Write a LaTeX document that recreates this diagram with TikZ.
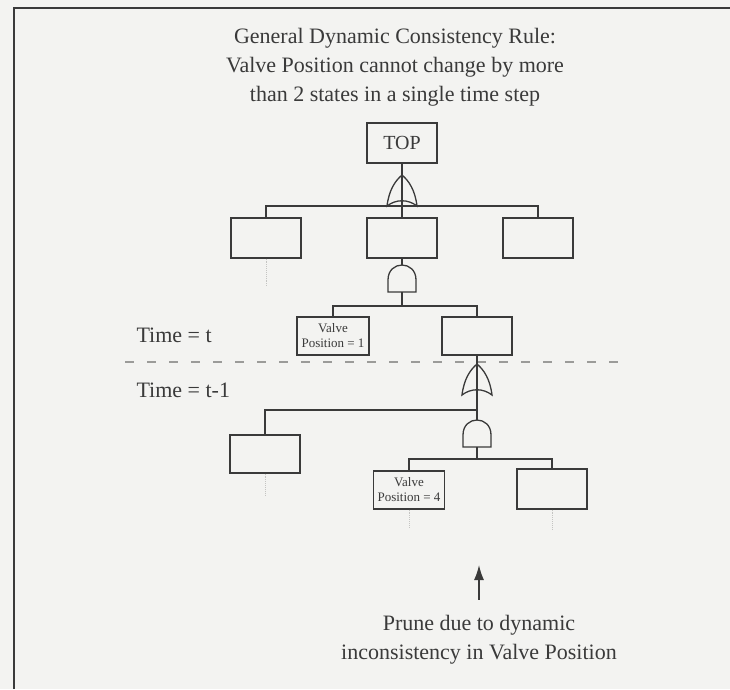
\documentclass[tikz,border=0pt]{standalone}
\usepackage{fontspec}
\setmainfont{Liberation Serif}
\usetikzlibrary{arrows.meta,positioning,calc}
\definecolor{Ink}{HTML}{3A3A3A}
\definecolor{Paper}{HTML}{F3F3F1}
\definecolor{Faint}{HTML}{C4C4C2}
\tikzset{evt/.style={draw=Ink,line width=1.3pt,minimum width=70pt,minimum height=40pt,inner sep=0pt,font=\fontsize{20}{24}\selectfont,text=Ink},valve/.style={evt,minimum width=72pt,minimum height=38pt,align=center,font=\fontsize{13}{15}\selectfont},wire/.style={draw=Ink,line width=1.3pt},lab/.style={font=\fontsize{22}{29}\selectfont,text=Ink,align=center},ghost/.style={draw=Faint,line width=.9pt,densely dotted},flow/.style={-{Latex[length=15pt,width=10pt]},line width=1.4pt,draw=Ink}}
\tikzset{orgate/.pic={\draw[wire] (-15,0) .. controls (-6,-7) and (6,-7) .. (15,0) .. controls (13,-16) and (7,-25) .. (0,-31) .. controls (-7,-25) and (-13,-16) .. (-15,0) -- cycle;
  \coordinate (-top) at (0,-31); \coordinate (-in) at (0,-5.25);},
 andgate/.pic={\draw[wire] (-14,0) -- (-14,-12) .. controls (-14,-22) and (-7,-27) .. (0,-27) .. controls (7,-27) and (14,-22) .. (14,-12) -- (14,0) -- cycle;
  \coordinate (-top) at (0,-27); \coordinate (-bot) at (0,0);}}

\begin{document}
\begin{tikzpicture}[x=1pt,y=-1pt]
\fill[Paper] (0,0) rectangle (730,689);
\useasboundingbox (0,0) rectangle (730,689);
\draw[Ink,line width=1.3pt] (14,689) -- (14,8) -- (730,8);
\node[lab] (rule) at (395,67) {General Dynamic Consistency Rule:\\Valve Position cannot change by more\\than 2 states in a single time step};
% time t
\node[evt] (top) at (402,143) {TOP};
\pic (g1) at (402,206) {orgate};
\coordinate (bus1) at (402,206);
\node[evt] (b1) at (266,238) {};
\node[evt] (b2) at (402,238) {};
\node[evt] (b3) at (538,238) {};
\draw[wire] (top.south) -- (g1-in) -- (bus1);
\draw[wire] (b1.north) |- (bus1) -| (b3.north);
\draw[wire] (bus1) -- (b2.north);
\pic (g2) at (402,292) {andgate};
\coordinate (bus2) at (402,306);
\node[valve] (v1) at (333,336) {Valve\\Position = 1};
\node[evt,minimum height=38pt] (r1) at (477,336) {};
\draw[wire] (b2.south) -- (g2-top);
\draw[wire] (g2-bot) -- (bus2);
\draw[wire] (v1.north) |- (bus2) -| (r1.north);
\node[lab,anchor=base west] (tt) at (133,342) {Time = t};
\draw[Faint!70!Ink,line width=1.2pt,dash pattern=on 9pt off 13pt] (125,362) -- (630,362);
\node[lab,anchor=base west] (tt1) at (133,397) {Time = t-1};
% time t-1
\pic (g3) at (477,395) {orgate};
\coordinate (bus3) at (477,410);
\node[evt,minimum height=38pt] (l2) at (265,454) {};
\draw[wire] (r1.south) -- (g3-in) -- (bus3);
\draw[wire] (bus3) -| (l2.north);
\pic (g4) at (477,447) {andgate};
\coordinate (bus4) at (477,459);
\node[valve,minimum width=71pt] (v4) at (409,490) {Valve\\Position = 4};
\node[evt] (r4) at (552,489) {};
\draw[wire] (bus3) -- (g4-top);
\draw[wire] (g4-bot) -- (bus4);
\draw[wire] (v4.north) |- (bus4) -| (r4.north);
\draw[ghost] (b1.south) -- ++(0,28);
\draw[ghost] (l2.south) -- ++(0,22);
\draw[ghost] (v4.south) -- ++(0,18);
\draw[ghost] (r4.south) -- ++(0,20);
\node[lab] (prune) at (479,640) {Prune due to dynamic\\inconsistency in Valve Position};
\coordinate (tip) at (479,565);
\draw[flow,shorten <=12pt] (prune.north) -- (tip);
\end{tikzpicture}
\end{document}
